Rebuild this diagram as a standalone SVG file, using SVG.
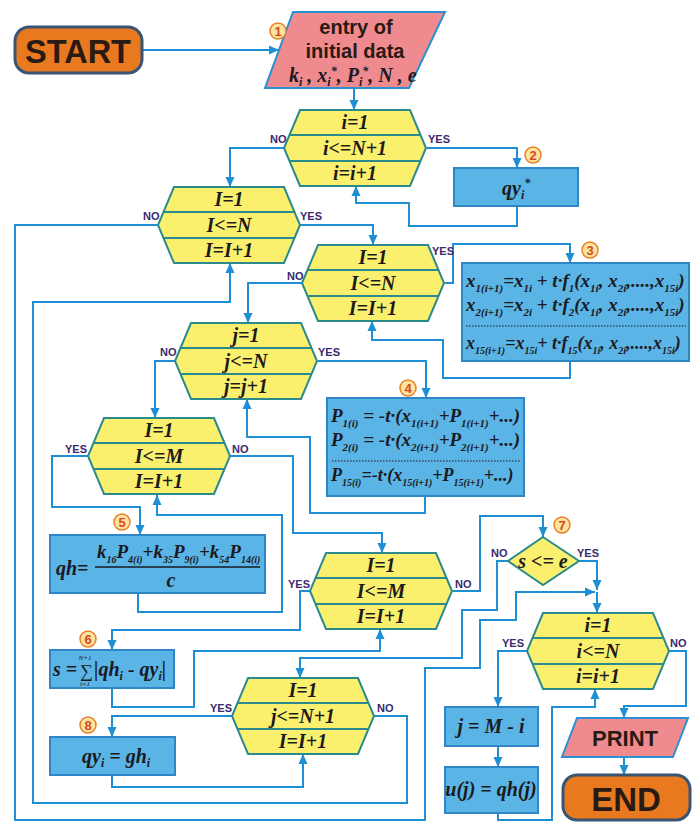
<svg xmlns="http://www.w3.org/2000/svg" width="697" height="823" viewBox="0 0 697 823">
<style>
.bg{fill:#ffffff}
.cn{fill:none;stroke:#1e8fd5;stroke-width:2;stroke-linejoin:miter}
.hexf{fill:#fbf06e;stroke:#2b8a8e;stroke-width:2}
.hexd{fill:none;stroke:#2b8a8e;stroke-width:2}
.box{fill:#5ab4e6;stroke:#2f86c6;stroke-width:2}
.pink{fill:#ef8a8e;stroke:#2b8fd3;stroke-width:2}
.term{fill:#e8791f;stroke:#3a5573;stroke-width:3}
.hx{font-family:"Liberation Serif",serif;font-style:italic;font-weight:bold;font-size:20px;fill:#1b1b1b;text-anchor:middle}
.m{font-family:"Liberation Serif",serif;font-style:italic;font-weight:bold;font-size:20px;fill:#1a1a22}
.m19{font-family:"Liberation Serif",serif;font-style:italic;font-weight:bold;font-size:19px;fill:#1a1a22}
.m18{font-family:"Liberation Serif",serif;font-style:italic;font-weight:bold;font-size:18px;fill:#1a1a22}
.sb{font-size:12px}
.s11{font-size:11px}
.s10{font-size:10px}
.yn{font-family:"Liberation Sans",Arial,sans-serif;font-weight:bold;font-size:11px;fill:#3b2a6e}
.numc{fill:#fbe3a0;stroke:#e8802a;stroke-width:1.5}
.num{font-family:"Liberation Sans",Arial,sans-serif;font-weight:bold;font-size:13px;fill:#d8481c;text-anchor:middle}
.lbl{font-family:"Liberation Sans",Arial,sans-serif;font-weight:bold;fill:#2a1a14;text-anchor:middle}
.dots{stroke:#1a1a22;stroke-width:1.2;stroke-dasharray:1.5 1.5}
</style>
<defs>
<marker id="ar" markerWidth="10" markerHeight="10" refX="10" refY="5" orient="auto" markerUnits="userSpaceOnUse">
<path d="M0,0.5 L10,5 L0,9.5 Z" fill="#1e8fd5"/>
</marker>
<g id="hx">
<path d="M16,0 H126 L142,38 L126,76 H16 L0,38 Z" class="hexf"/>
<path d="M5.5,25 H136.5 M5.5,51 H136.5" class="hexd"/>
</g>
</defs>
<rect class="bg" x="0" y="0" width="697" height="823"/>

<g id="connectors">
<path class="cn" marker-end="url(#ar)" d="M142,50 H279"/>
<path class="cn" marker-end="url(#ar)" d="M354,88 V110"/>
<path class="cn" marker-end="url(#ar)" d="M284,148 H230 V187"/>
<path class="cn" marker-end="url(#ar)" d="M427,148 H517 V168"/>
<path class="cn" marker-end="url(#ar)" d="M517,206 V226 H409 V203 H356 V186"/>
<path class="cn" marker-end="url(#ar)" d="M300,225 H373 V245"/>
<path class="cn" marker-end="url(#ar)" d="M158,225 H15 V820 H425 V668 H480 V620 H516 V592 H595"/>
<path class="cn" marker-end="url(#ar)" d="M445,283 H453 V244 H570 V263"/>
<path class="cn" marker-end="url(#ar)" d="M570,361 V378 H443 V340 H372 V321"/>
<path class="cn" marker-end="url(#ar)" d="M302,283 H248 V323"/>
<path class="cn" marker-end="url(#ar)" d="M318,361 H426 V398"/>
<path class="cn" marker-end="url(#ar)" d="M175,361 H155 V418"/>
<path class="cn" marker-end="url(#ar)" d="M425,496 V513 H310 V437 H247 V399"/>
<path class="cn" marker-end="url(#ar)" d="M88,456 H52 V507 H140 V535"/>
<path class="cn" marker-end="url(#ar)" d="M138,593 V612 H282 V515 H157 V495"/>
<path class="cn" marker-end="url(#ar)" d="M230,456 H293 V533 H382 V553"/>
<path class="cn" marker-end="url(#ar)" d="M453,591 H480 V516 H543 V537"/>
<path class="cn" marker-end="url(#ar)" d="M310,591 H300 V630 H112 V650"/>
<path class="cn" marker-end="url(#ar)" d="M112,688 V707 H194 V651 H380 V629"/>
<path class="cn" marker-end="url(#ar)" d="M508,561 H497 V610 H462 V658 H300 V678"/>
<path class="cn" marker-end="url(#ar)" d="M579,561 H597 V590"/>
<path class="cn" marker-end="url(#ar)" d="M597,592 V613"/>
<path class="cn" marker-end="url(#ar)" d="M232,716 H112 V737"/>
<path class="cn" marker-end="url(#ar)" d="M112,775 V787 H303 V754"/>
<path class="cn" marker-end="url(#ar)" d="M374,716 H407 V803 H33 V302 H230 V263"/>
<path class="cn" marker-end="url(#ar)" d="M527,651 H498 V707"/>
<path class="cn" marker-end="url(#ar)" d="M498,746 V767"/>
<path class="cn" marker-end="url(#ar)" d="M498,813 V820 H552 V707 H595 V689"/>
<path class="cn" marker-end="url(#ar)" d="M668,651 H686 V706 H624 V718"/>
<path class="cn" marker-end="url(#ar)" d="M624,757 V775"/>
</g>

<g id="start">
<rect class="term" x="15" y="27" width="127" height="46" rx="14"/>
<text class="lbl" x="78" y="63" font-size="34" textLength="106" lengthAdjust="spacingAndGlyphs">START</text>
</g>

<g id="n1">
<polygon class="pink" points="293,12 445,12 409,88 265,88"/>
<text class="lbl" x="356" y="34" font-size="20">entry of</text>
<text class="lbl" x="355" y="58" font-size="20">initial data</text>
<text class="m" x="289" y="82">k<tspan class="sb" dy="4">i</tspan><tspan dy="-4"> , x</tspan><tspan class="sb" dy="4">i</tspan><tspan class="sb" dy="-11">*</tspan><tspan dy="7">, P</tspan><tspan class="sb" dy="4">i</tspan><tspan class="sb" dy="-11">*</tspan><tspan dy="7">, N , e</tspan></text>
<circle class="numc" cx="278" cy="31" r="8"/>
<text class="num" x="278" y="36">1</text>
</g>

<g id="h1">
<use href="#hx" x="284" y="110"/>
<text class="hx" x="355" y="129">i=1</text>
<text class="hx" x="355" y="155">i&lt;=N+1</text>
<text class="hx" x="355" y="180">i=i+1</text>
<text class="yn" x="270" y="143">NO</text>
<text class="yn" x="428" y="143">YES</text>
</g>

<g id="n2">
<rect class="box" x="454" y="168" width="124" height="38"/>
<text class="m" x="502" y="195" font-size="21">qy<tspan class="sb" dy="4">i</tspan><tspan class="sb" dy="-12">*</tspan></text>
<circle class="numc" cx="533" cy="155" r="8"/>
<text class="num" x="533" y="160">2</text>
</g>

<g id="h2">
<use href="#hx" x="158" y="187"/>
<text class="hx" x="229" y="206">I=1</text>
<text class="hx" x="229" y="232">I&lt;=N</text>
<text class="hx" x="229" y="257">I=I+1</text>
<text class="yn" x="143" y="220">NO</text>
<text class="yn" x="300" y="220">YES</text>
</g>

<g id="h3">
<use href="#hx" x="302" y="245"/>
<text class="hx" x="373" y="264">I=1</text>
<text class="hx" x="373" y="290">I&lt;=N</text>
<text class="hx" x="373" y="315">I=I+1</text>
<text class="yn" x="287" y="280">NO</text>
<text class="yn" x="432" y="255">YES</text>
</g>

<g id="n3">
<rect class="box" x="462" y="263" width="227" height="98"/>
<text class="m19" x="466" y="287">x<tspan class="s11" dy="5">1(i+1)</tspan><tspan dy="-5">=x</tspan><tspan class="s11" dy="5">1i</tspan><tspan dy="-5"> + t·f</tspan><tspan class="s11" dy="5">1</tspan><tspan dy="-5">(x</tspan><tspan class="s11" dy="5">1i</tspan><tspan dy="-5">, x</tspan><tspan class="s11" dy="5">2i</tspan><tspan dy="-5">,....,x</tspan><tspan class="s11" dy="5">15i</tspan><tspan dy="-5">)</tspan></text>
<text class="m19" x="466" y="311">x<tspan class="s11" dy="5">2(i+1)</tspan><tspan dy="-5">=x</tspan><tspan class="s11" dy="5">2i</tspan><tspan dy="-5"> + t·f</tspan><tspan class="s11" dy="5">2</tspan><tspan dy="-5">(x</tspan><tspan class="s11" dy="5">1i</tspan><tspan dy="-5">, x</tspan><tspan class="s11" dy="5">2i</tspan><tspan dy="-5">,....,x</tspan><tspan class="s11" dy="5">15i</tspan><tspan dy="-5">)</tspan></text>
<line class="dots" x1="466" y1="326" x2="686" y2="326"/>
<text class="m18" x="466" y="349">x<tspan class="s10" dy="5">15(i+1)</tspan><tspan dy="-5">=x</tspan><tspan class="s10" dy="5">15i</tspan><tspan dy="-5">+ t·f</tspan><tspan class="s10" dy="5">15</tspan><tspan dy="-5">(x</tspan><tspan class="s10" dy="5">1i</tspan><tspan dy="-5">, x</tspan><tspan class="s10" dy="5">2i</tspan><tspan dy="-5">,....,x</tspan><tspan class="s10" dy="5">15i</tspan><tspan dy="-5">)</tspan></text>
<circle class="numc" cx="590" cy="250" r="8"/>
<text class="num" x="590" y="255">3</text>
</g>

<g id="hj">
<use href="#hx" x="175" y="323"/>
<text class="hx" x="246" y="342">j=1</text>
<text class="hx" x="246" y="368">j&lt;=N</text>
<text class="hx" x="246" y="393">j=j+1</text>
<text class="yn" x="160" y="356">NO</text>
<text class="yn" x="318" y="356">YES</text>
</g>

<g id="n4">
<rect class="box" x="327" y="398" width="197" height="98"/>
<text class="m19" x="331" y="422">P<tspan class="s11" dy="5">1(i)</tspan><tspan dy="-5"> = -t·(x</tspan><tspan class="s11" dy="5">1(i+1)</tspan><tspan dy="-5">+P</tspan><tspan class="s11" dy="5">1(i+1)</tspan><tspan dy="-5">+...)</tspan></text>
<text class="m19" x="331" y="446">P<tspan class="s11" dy="5">2(i)</tspan><tspan dy="-5"> = -t·(x</tspan><tspan class="s11" dy="5">2(i+1)</tspan><tspan dy="-5">+P</tspan><tspan class="s11" dy="5">2(i+1)</tspan><tspan dy="-5">+...)</tspan></text>
<line class="dots" x1="332" y1="461" x2="520" y2="461"/>
<text class="m18" x="331" y="481">P<tspan class="s10" dy="5">15(i)</tspan><tspan dy="-5">=-t·(x</tspan><tspan class="s10" dy="5">15(i+1)</tspan><tspan dy="-5">+P</tspan><tspan class="s10" dy="5">15(i+1)</tspan><tspan dy="-5">+...)</tspan></text>
<circle class="numc" cx="408" cy="388" r="8"/>
<text class="num" x="408" y="393">4</text>
</g>

<g id="h4">
<use href="#hx" x="88" y="418"/>
<text class="hx" x="159" y="437">I=1</text>
<text class="hx" x="159" y="463">I&lt;=M</text>
<text class="hx" x="159" y="488">I=I+1</text>
<text class="yn" x="65" y="453">YES</text>
<text class="yn" x="232" y="453">NO</text>
</g>

<g id="n5">
<rect class="box" x="50" y="535" width="215" height="58"/>
<text class="m" x="56" y="575" font-size="21">qh=</text>
<text class="m19" x="97" y="558">k<tspan class="s10" dy="5">16</tspan><tspan dy="-5">P</tspan><tspan class="s10" dy="5">4(i)</tspan><tspan dy="-5">+k</tspan><tspan class="s10" dy="5">35</tspan><tspan dy="-5">P</tspan><tspan class="s10" dy="5">9(i)</tspan><tspan dy="-5">+k</tspan><tspan class="s10" dy="5">54</tspan><tspan dy="-5">P</tspan><tspan class="s10" dy="5">14(i)</tspan></text>
<line x1="95" y1="567" x2="260" y2="567" stroke="#1a1a22" stroke-width="1.5"/>
<text class="m" x="171" y="587" text-anchor="middle">c</text>
<circle class="numc" cx="122" cy="522" r="8"/>
<text class="num" x="122" y="527">5</text>
</g>

<g id="h5">
<use href="#hx" x="310" y="553"/>
<text class="hx" x="381" y="572">I=1</text>
<text class="hx" x="381" y="598">I&lt;=M</text>
<text class="hx" x="381" y="623">I=I+1</text>
<text class="yn" x="288" y="588">YES</text>
<text class="yn" x="455" y="588">NO</text>
</g>

<g id="n7">
<polygon class="hexf" points="543,537 579,561 543,585 508,561"/>
<text class="hx" x="543" y="568">s &lt;= e</text>
<text class="yn" x="491" y="557">NO</text>
<text class="yn" x="577" y="557">YES</text>
<circle class="numc" cx="562" cy="525" r="8"/>
<text class="num" x="562" y="530">7</text>
</g>

<g id="n6">
<rect class="box" x="50" y="650" width="124" height="38"/>
<text class="m" x="53" y="676">s =</text>
<text x="80" y="677" font-family="Liberation Serif,serif" font-size="18" fill="#1a1a22">∑</text>
<text x="85" y="660" font-family="Liberation Serif,serif" font-style="italic" font-size="7" fill="#1a1a22" text-anchor="middle">N+1</text>
<text x="85" y="686" font-family="Liberation Serif,serif" font-style="italic" font-size="7" fill="#1a1a22" text-anchor="middle">i=1</text>
<text class="m" x="94" y="676">|qh<tspan class="sb" dy="4">i</tspan><tspan dy="-4"> - qy</tspan><tspan class="sb" dy="4">i</tspan><tspan dy="-4">|</tspan></text>
<circle class="numc" cx="88" cy="639" r="8"/>
<text class="num" x="88" y="644">6</text>
</g>

<g id="h6">
<use href="#hx" x="232" y="678"/>
<text class="hx" x="303" y="697">I=1</text>
<text class="hx" x="303" y="723">j&lt;=N+1</text>
<text class="hx" x="303" y="748">I=I+1</text>
<text class="yn" x="210" y="712">YES</text>
<text class="yn" x="377" y="712">NO</text>
</g>

<g id="n8">
<rect class="box" x="50" y="737" width="125" height="38"/>
<text class="m" x="82" y="763">qy<tspan class="sb" dy="4">i</tspan><tspan dy="-4"> = gh</tspan><tspan class="sb" dy="4">i</tspan></text>
<circle class="numc" cx="88" cy="725" r="8"/>
<text class="num" x="88" y="730">8</text>
</g>

<g id="h7">
<use href="#hx" x="527" y="613"/>
<text class="hx" x="598" y="632">i=1</text>
<text class="hx" x="598" y="658">i&lt;=N</text>
<text class="hx" x="598" y="683">i=i+1</text>
<text class="yn" x="502" y="647">YES</text>
<text class="yn" x="670" y="647">NO</text>
</g>

<g id="nj">
<rect class="box" x="445" y="707" width="93" height="39"/>
<text class="hx" x="491" y="733">j = M - i</text>
</g>

<g id="nu">
<rect class="box" x="445" y="767" width="93" height="46"/>
<text class="hx" x="491" y="796" font-size="19">u(j) = qh(j)</text>
</g>

<g id="print">
<polygon class="pink" points="577,718 688,718 673,757 562,757"/>
<text class="lbl" x="625" y="746" font-size="22">PRINT</text>
</g>

<g id="end">
<rect class="term" x="563" y="775" width="127" height="45" rx="14"/>
<text class="lbl" x="626" y="811" font-size="33">END</text>
</g>
</svg>
